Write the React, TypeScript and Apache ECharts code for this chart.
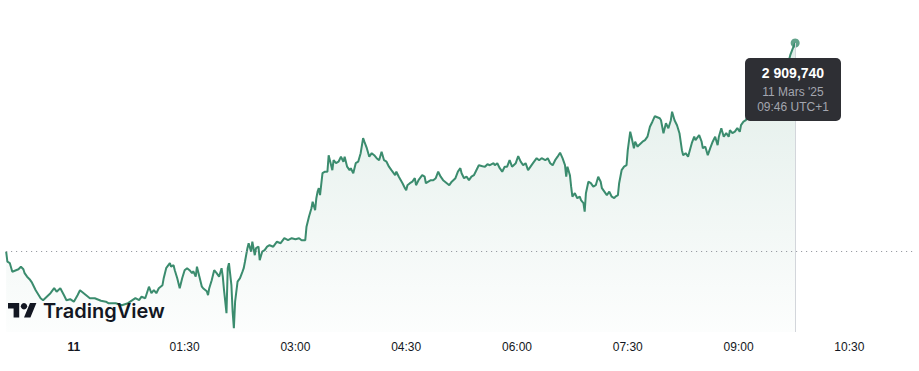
import React, { useEffect, useRef } from "react";
import * as echarts from "echarts";

// Intraday quotes: [minutes from 00:00 on 11 March 2025 (UTC+1), price]
const priceTicks: [number, number][] = [
  [-55, 2868.0], [-54, 2866.0], [-52, 2865.7], [-50, 2864.0], [-47, 2864.3], [-45, 2864.5], [-43, 2865.0], [-41, 2864.5],
  [-40, 2863.7], [-38, 2863.0], [-36, 2862.5], [-34, 2861.8], [-31, 2860.3], [-29, 2859.5], [-27, 2858.7], [-25, 2858.3],
  [-22, 2859.0], [-19, 2859.7], [-16, 2860.7], [-14, 2860.0], [-11, 2860.7], [-8, 2859.3], [-6, 2858.3], [-3, 2858.5],
  [0, 2858.0], [3, 2859.3], [5, 2860.3], [8, 2859.7], [11, 2859.1], [13, 2858.7], [17, 2858.7], [22, 2858.2],
  [26, 2858.0], [28, 2857.7], [34, 2857.7], [39, 2857.3], [44, 2857.7], [50, 2858.7], [53, 2858.3], [55, 2859.0],
  [58, 2858.7], [61, 2861.0], [63, 2859.7], [65, 2860.3], [67, 2859.7], [69, 2860.7], [72, 2861.3], [73, 2862.7],
  [75, 2864.7], [78, 2865.7], [79, 2865.0], [81, 2865.3], [82, 2864.3], [84, 2862.7], [86, 2860.7], [88, 2862.7],
  [90, 2864.3], [92, 2864.7], [94, 2864.3], [96, 2863.7], [97, 2864.1], [99, 2863.0], [100, 2865.0], [102, 2863.0],
  [104, 2861.0], [105, 2860.7], [108, 2860.1], [109, 2859.3], [110, 2860.7], [112, 2862.3], [114, 2864.3], [116, 2863.7],
  [118, 2863.0], [120, 2864.7], [121, 2863.0], [122, 2860.3], [124, 2855.7], [125, 2864.7], [126, 2865.7], [128, 2861.3],
  [129, 2856.0], [130, 2852.7], [131, 2858.0], [133, 2862.0], [135, 2862.7], [137, 2864.0], [138, 2864.7], [139, 2866.0],
  [141, 2868.7], [142, 2869.7], [144, 2868.0], [145, 2870.0], [147, 2867.3], [148, 2868.7], [150, 2869.0], [151, 2866.3],
  [153, 2868.0], [155, 2868.3], [157, 2869.0], [159, 2869.3], [162, 2869.0], [165, 2870.0], [168, 2869.7], [171, 2870.7],
  [174, 2870.3], [177, 2870.7], [180, 2870.5], [183, 2870.7], [185, 2870.3], [188, 2870.3], [189, 2873.0], [191, 2875.0],
  [193, 2876.7], [194, 2878.0], [196, 2876.3], [197, 2878.7], [198, 2880.0], [199, 2880.7], [200, 2879.3], [202, 2883.7],
  [204, 2884.0], [206, 2884.0], [207, 2887.3], [208, 2886.3], [210, 2884.3], [211, 2886.3], [213, 2885.7], [215, 2886.0],
  [217, 2887.0], [219, 2886.0], [220, 2887.0], [222, 2885.0], [224, 2884.3], [225, 2884.7], [227, 2883.7], [229, 2885.7],
  [231, 2886.0], [233, 2887.7], [235, 2890.7], [236, 2890.0], [238, 2888.7], [240, 2887.0], [242, 2887.7], [244, 2887.3],
  [246, 2886.7], [248, 2886.3], [250, 2888.0], [252, 2886.3], [254, 2886.0], [256, 2885.0], [258, 2884.3], [261, 2883.3],
  [262, 2884.0], [264, 2883.0], [267, 2881.7], [269, 2880.7], [270, 2880.3], [271, 2881.3], [273, 2881.7], [275, 2882.0],
  [277, 2882.7], [278, 2881.3], [280, 2882.3], [283, 2883.3], [285, 2883.0], [286, 2881.7], [288, 2882.0], [290, 2882.3],
  [292, 2882.3], [294, 2882.7], [296, 2884.0], [298, 2883.0], [300, 2882.3], [303, 2881.7], [305, 2881.3], [307, 2882.0],
  [310, 2882.7], [312, 2884.0], [314, 2884.7], [315, 2883.7], [317, 2882.7], [319, 2883.0], [321, 2882.3], [323, 2883.0],
  [325, 2883.3], [327, 2884.3], [329, 2885.3], [332, 2885.1], [334, 2885.0], [336, 2885.5], [338, 2885.3], [341, 2885.7],
  [342, 2885.3], [344, 2885.7], [346, 2884.7], [348, 2884.0], [350, 2885.0], [352, 2885.0], [354, 2886.3], [356, 2885.0],
  [359, 2885.7], [361, 2887.1], [363, 2886.0], [365, 2885.3], [367, 2885.7], [369, 2884.3], [371, 2885.0], [373, 2885.7],
  [376, 2886.7], [378, 2886.3], [380, 2886.7], [383, 2886.3], [385, 2886.7], [387, 2885.7], [389, 2885.3], [391, 2886.3],
  [393, 2887.0], [395, 2887.8], [397, 2886.7], [399, 2885.3], [400, 2883.0], [401, 2885.0], [403, 2883.3], [404, 2881.0],
  [405, 2879.0], [407, 2879.7], [409, 2878.7], [411, 2879.0], [412, 2878.3], [414, 2877.7], [415, 2876.0], [416, 2879.7],
  [418, 2882.0], [420, 2881.7], [422, 2881.0], [424, 2881.3], [426, 2883.0], [428, 2882.0], [429, 2880.7], [431, 2880.0],
  [433, 2879.3], [435, 2880.0], [437, 2879.0], [439, 2878.7], [440, 2879.0], [442, 2879.3], [443, 2881.7], [445, 2884.3],
  [447, 2885.0], [449, 2885.3], [450, 2888.3], [452, 2892.0], [453, 2891.0], [455, 2888.7], [456, 2890.0], [458, 2889.0],
  [459, 2889.3], [462, 2890.0], [464, 2890.3], [466, 2891.0], [468, 2893.0], [470, 2894.0], [472, 2895.1], [474, 2894.9],
  [476, 2894.7], [477, 2894.3], [479, 2891.7], [481, 2893.7], [483, 2892.7], [485, 2894.3], [486, 2896.0], [488, 2894.3],
  [490, 2893.3], [492, 2891.7], [494, 2888.3], [495, 2887.3], [497, 2887.7], [499, 2887.0], [502, 2889.7], [504, 2891.0],
  [505, 2890.3], [508, 2891.3], [510, 2890.0], [511, 2888.7], [513, 2889.0], [515, 2887.3], [517, 2888.7], [519, 2890.0],
  [521, 2891.0], [523, 2889.3], [524, 2891.0], [526, 2892.7], [528, 2891.0], [530, 2891.7], [532, 2891.0], [533, 2892.3],
  [535, 2891.7], [537, 2892.0], [539, 2892.7], [541, 2892.0], [542, 2893.3], [544, 2894.0], [546, 2894.3], [547, 2895.0],
  [550, 2894.7], [553, 2895.7], [556, 2897.0], [561, 2898.3], [566, 2899.3], [571, 2901.1], [575, 2903.3], [580, 2905.5],
  [582, 2907.3], [584, 2908.6], [586, 2909.74],
];

const previousClose = 2868.1;
const lastTime = 586; // 09:46
const lastPrice = 2909.74;
const tickMinutes = [0, 90, 180, 270, 360, 450, 540, 630];
const tooltipLines = ["2 909,740", "11 Mars '25", "09:46 UTC+1"];

const X_MIN = -60;
const X_MAX = 686.6;
const Y_MIN = 2851.94;
const Y_MAX = 2914.34;

const GREEN = "#3b8c6e";

const TV_MARK = "M14 22H7V11H0V4h14v18zM28 22h-8l7.5-18h8L28 22z";
let registered = false;
function registerLogo() {
  if (registered) return;
  echarts.graphic.registerShape("tvmark", (echarts.graphic as any).extendPath(TV_MARK, {}));
  registered = true;
}

function fmtTime(v: number): string {
  const h = Math.floor(v / 60);
  const m = Math.round(v - h * 60);
  return String(h).padStart(2, "0") + ":" + String(m).padStart(2, "0");
}

export default function App() {
  const ref = useRef<HTMLDivElement>(null);
  useEffect(() => {
    if (!ref.current) return;
    registerLogo();
    const chart = echarts.init(ref.current, undefined, { renderer: "svg" });
    const option: any = {
      animation: false,
      backgroundColor: "#ffffff",
      grid: { left: 0, right: 0, top: 20, bottom: 39, containLabel: false },
      xAxis: {
        type: "value",
        min: X_MIN,
        max: X_MAX,
        axisLine: { show: false },
        axisTick: { show: false },
        splitLine: { show: false },
        axisLabel: {
          customValues: tickMinutes,
          margin: 9,
          color: "#131722",
          fontSize: 12,
          fontFamily: "Liberation Sans, Arial, sans-serif",
          formatter: (v: number) => (v === 0 ? "{d|11}" : fmtTime(v)),
          rich: {
            d: { fontWeight: "bold", color: "#131722", fontSize: 12, fontFamily: "Liberation Sans, Arial, sans-serif" },
          },
        },
      },
      yAxis: { type: "value", min: Y_MIN, max: Y_MAX, show: false },
      series: [
        {
          type: "line",
          data: priceTicks,
          showSymbol: false,
          smooth: false,
          lineStyle: { color: GREEN, width: 2 },
          areaStyle: {
            origin: "start",
            color: new echarts.graphic.LinearGradient(0, 0, 0, 1, [
              { offset: 0, color: "rgba(59,140,110,0.22)" },
              { offset: 1, color: "rgba(59,140,110,0.02)" },
            ]),
          },
          markLine: {
            silent: true,
            symbol: "none",
            label: { show: false },
            data: [
              [
                { coord: [-55, previousClose], lineStyle: { color: "#8a8d96", width: 1, type: [1, 4] } },
                { coord: [683, previousClose] },
              ],
              [
                { coord: [lastTime, lastPrice], lineStyle: { color: "#d3d6db", width: 1, type: "solid" } },
                { coord: [lastTime, Y_MIN] },
              ],
            ],
          },
          z: 3,
        },
        {
          type: "scatter",
          data: [[lastTime, lastPrice]],
          symbol: "circle",
          symbolSize: 9,
          itemStyle: { color: GREEN },
          z: 4,
        },
      ],
      graphic: [
        {
          type: "rect",
          z: 100,
          shape: { x: 745, y: 58, width: 96, height: 63, r: 5 },
          style: { fill: "#2e2f34" },
        },
        {
          type: "text",
          z: 101,
          x: 793,
          y: 73,
          style: {
            text: tooltipLines[0],
            fill: "#ffffff",
            font: "bold 14px 'Liberation Sans', Arial, sans-serif",
            align: "center",
            verticalAlign: "middle",
          },
        },
        {
          type: "text",
          z: 101,
          x: 793,
          y: 92,
          style: {
            text: tooltipLines[1],
            fill: "#a3a6af",
            font: "12px 'Liberation Sans', Arial, sans-serif",
            align: "center",
            verticalAlign: "middle",
          },
        },
        {
          type: "text",
          z: 101,
          x: 793,
          y: 107,
          style: {
            text: tooltipLines[2],
            fill: "#a3a6af",
            font: "12px 'Liberation Sans', Arial, sans-serif",
            align: "center",
            verticalAlign: "middle",
          },
        },
        {
          type: "tvmark",
          z: 100,
          x: 8,
          y: 299.8,
          scaleX: 0.8,
          scaleY: 0.8,
          style: { fill: "#131722" },
        },
        {
          type: "circle",
          z: 100,
          shape: { cx: 24, cy: 306.2, r: 3.2 },
          style: { fill: "#131722" },
        },
        {
          type: "text",
          z: 100,
          x: 43,
          y: 311,
          style: {
            text: "TradingView",
            fill: "#131722",
            font: "600 20px Inter, sans-serif",
            align: "left",
            verticalAlign: "middle",
          },
        },
      ],
    };
    chart.setOption(option);
    return () => chart.dispose();
  }, []);
  return (
    <div
      ref={ref}
      style={{ position: "fixed", left: 0, top: 0, width: 919, height: 371, background: "#fff" }}
    />
  );
}
